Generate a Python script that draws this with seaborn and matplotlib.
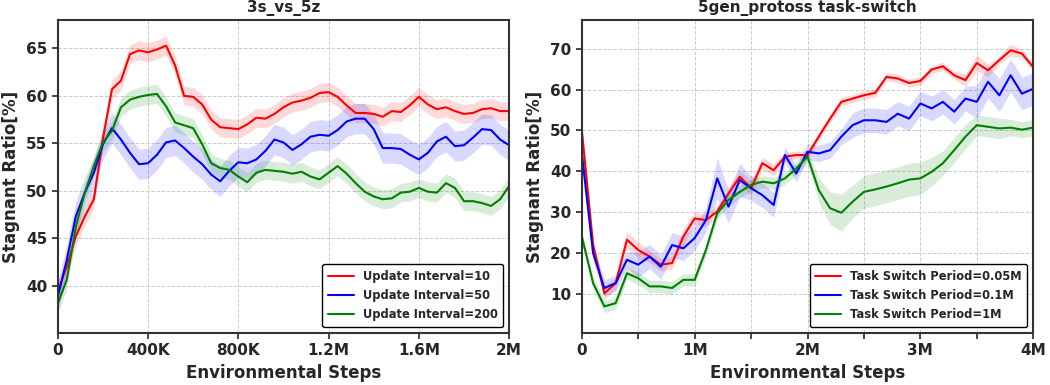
import numpy as np
import pandas as pd
import matplotlib
matplotlib.use("Agg")
import matplotlib.pyplot as plt
from matplotlib.ticker import MultipleLocator, FixedLocator, FixedFormatter
import seaborn as sns

# --- DATA ---
# left panel: 3s_vs_5z, sampled every 40K steps
steps_left = np.arange(0, 2_000_001, 40_000)
ui10 = [39.4, 42.0, 45.2, 47.3, 49.1, 55.5, 60.7, 61.6, 64.4, 64.8, 64.6, 64.9, 65.3,
        63.2, 60.0, 59.9, 59.1, 57.5, 56.7, 56.6, 56.5, 57.0, 57.7, 57.6, 58.1, 58.8,
        59.3, 59.5, 59.8, 60.3, 60.4, 59.9, 59.0, 58.2, 58.2, 58.1, 57.8, 58.4, 58.3,
        59.0, 59.9, 59.1, 58.6, 58.8, 58.4, 58.1, 58.2, 58.6, 58.7, 58.4, 58.4]
ui50 = [38.8, 42.7, 47.3, 49.8, 51.9, 54.9, 56.6, 55.4, 54.0, 52.8, 52.9, 53.8, 55.1,
        55.3, 54.5, 53.6, 52.8, 51.7, 51.0, 52.1, 53.0, 52.9, 53.3, 54.2, 55.4, 55.1,
        54.3, 54.9, 55.7, 55.9, 55.8, 56.4, 57.3, 57.6, 57.6, 56.5, 54.5, 54.5, 54.4,
        53.8, 53.3, 54.0, 55.2, 55.7, 54.7, 54.8, 55.6, 56.5, 56.4, 55.4, 54.8]
ui200 = [38.1, 40.6, 46.2, 49.8, 52.6, 55.1, 56.3, 58.8, 59.6, 59.9, 60.1, 60.2, 58.9,
         57.2, 56.9, 56.6, 54.9, 52.9, 52.4, 52.2, 51.5, 50.9, 51.9, 52.2, 52.1, 52.0,
         51.8, 52.0, 51.5, 51.2, 51.9, 52.6, 51.8, 50.8, 49.9, 49.4, 49.1, 49.2, 49.8,
         49.9, 50.3, 49.9, 49.8, 50.8, 50.3, 48.9, 48.9, 48.7, 48.4, 49.1, 50.5]
band_left = [1.0, 1.6, 1.0]
labels_left = ["Update Interval=10", "Update Interval=50", "Update Interval=200"]

# right panel: 5gen_protoss task-switch, sampled every 0.1M steps
steps_right = np.arange(0, 4_000_001, 100_000)
tsp005 = [50.1, 22.0, 10.2, 12.7, 23.3, 20.8, 19.2, 17.2, 17.6, 24.1, 28.5, 28.1, 30.2,
          34.6, 38.7, 35.9, 42.0, 40.3, 43.6, 44.0, 44.0,
          48.5, 52.9, 57.0, 57.8, 58.6, 59.2, 63.1, 62.7, 61.6, 62.1, 64.9, 65.7, 63.5,
          62.3, 66.5, 64.7, 67.2, 69.6, 68.8, 65.5]
tsp01 = [44.4, 20.0, 11.5, 12.7, 18.4, 17.2, 19.2, 16.7, 22.0, 21.2, 23.7, 28.1, 38.3,
         31.4, 37.9, 35.9, 34.2, 31.8, 44.0, 39.5, 44.8,
         44.4, 45.2, 48.5, 51.3, 52.5, 52.5, 52.1, 54.1, 52.9, 56.6, 55.4, 57.0, 54.6,
         57.8, 57.0, 61.9, 58.6, 63.5, 59.0, 60.2]
tsp1 = [24.1, 12.7, 7.0, 7.8, 15.1, 13.9, 11.9, 11.9, 11.5, 13.5, 13.5, 20.8, 29.8,
        33.0, 35.0, 36.7, 37.5, 37.1, 38.3, 40.7, 43.6,
        35.4, 31.0, 29.9, 32.6, 35.0, 35.6, 36.3, 37.1, 38.0, 38.3, 39.9, 42.0, 45.2,
        48.5, 51.3, 50.9, 50.5, 50.7, 50.2, 50.7]
band005 = [1.0, 1.5, 1.5, 1.5, 2.0, 2.0, 1.5, 1.5, 1.5, 2.0, 1.5, 1.5, 1.5, 1.5, 1.5,
           2.0, 1.5, 1.5, 1.0, 1.0, 1.0, 1.0, 1.0, 1.0, 1.0, 1.0, 1.0, 1.0, 1.0, 1.0,
           1.0, 1.0, 1.0, 1.0, 1.5, 2.0, 1.5, 1.0, 1.5, 1.0, 1.0]
band01 = [2, 2, 2, 2, 2, 3, 3, 3, 3, 3, 3, 3, 5, 4, 4, 3, 3, 3, 2, 2, 2,
          2, 2, 2, 3, 3, 3, 3, 3, 3, 3, 3, 3, 3, 3, 4, 4, 4, 4, 4, 4]
band1 = [1, 1.5, 1.5, 1.5, 1.5, 1.5, 1.5, 1.5, 1.5, 1.5, 1.5, 1.5, 1.5, 1.5, 1.5, 1.5,
         1.5, 1.5, 1.5, 1.5, 1.5, 3, 4, 4.5, 4, 4, 4, 4, 4, 4, 4, 3.5, 3, 3, 3, 2.5,
         2.5, 2.5, 2, 2, 2]
labels_right = ["Task Switch Period=0.05M", "Task Switch Period=0.1M", "Task Switch Period=1M"]

colors = ["red", "blue", "green"]

sns.set_style("ticks")
plt.rcParams["font.family"] = ["DejaVu Sans"]
plt.rcParams["font.weight"] = "bold"

fig, axes = plt.subplots(1, 2, figsize=(10.5, 3.85), dpi=100)
fig.subplots_adjust(left=0.055, right=0.984, bottom=0.135, top=0.948, wspace=0.161)


def draw_panel(ax, steps, series, bands, labels):
    for vals, band, lab, col in zip(series, bands, labels, colors):
        df = pd.DataFrame({"step": steps, "ratio": vals})
        sns.lineplot(data=df, x="step", y="ratio", color=col, label=lab, ax=ax, linewidth=1.5)
        b = np.asarray(band, dtype=float)
        v = np.asarray(vals)
        ax.fill_between(steps, v - b, v + b, color=col, alpha=0.15, linewidth=0)


# left panel
ax = axes[0]
draw_panel(ax, steps_left, [ui10, ui50, ui200], band_left, labels_left)
ax.set_xlim(0, 2_000_000)
ax.set_ylim(35, 68)
ax.xaxis.set_major_locator(FixedLocator([0, 400_000, 800_000, 1_200_000, 1_600_000, 2_000_000]))
ax.xaxis.set_major_formatter(FixedFormatter(["0", "400K", "800K", "1.2M", "1.6M", "2M"]))
ax.set_yticks([40, 45, 50, 55, 60, 65])
ax.set_title("3s_vs_5z", fontsize=11, fontweight="bold")

# right panel
ax = axes[1]
draw_panel(ax, steps_right, [tsp005, tsp01, tsp1], [band005, band01, band1], labels_right)
ax.set_xlim(0, 4_000_000)
ax.set_ylim(0.5, 77)
ax.xaxis.set_major_locator(FixedLocator([0, 1_000_000, 2_000_000, 3_000_000, 4_000_000]))
ax.xaxis.set_major_formatter(FixedFormatter(["0", "1M", "2M", "3M", "4M"]))
ax.xaxis.set_minor_locator(MultipleLocator(500_000))
ax.set_yticks([10, 20, 30, 40, 50, 60, 70])
ax.set_title("5gen_protoss task-switch", fontsize=11, fontweight="bold")

for ax in axes:
    ax.grid(True, which="both", linestyle="--", linewidth=0.7, color="#cccccc")
    ax.set_axisbelow(True)
    ax.set_xlabel("Environmental Steps", fontsize=12, fontweight="bold")
    ax.set_ylabel("Stagnant Ratio[%]", fontsize=12, fontweight="bold")
    ax.tick_params(axis="both", which="major", labelsize=11, length=4, width=1.2, direction="out")
    ax.tick_params(axis="x", which="minor", length=4, width=1.2)
    for lab in ax.get_xticklabels() + ax.get_yticklabels():
        lab.set_fontweight("bold")
    for sp in ax.spines.values():
        sp.set_color("#333333")
        sp.set_linewidth(1.5)
    leg = ax.legend(loc="lower right", prop={"weight": "bold", "size": 8.3},
                    frameon=True, edgecolor="black", framealpha=1.0, borderpad=0.5,
                    handlelength=2.2, labelspacing=0.55)
    leg.get_frame().set_linewidth(1.0)

plt.savefig("out.png", dpi=100)
